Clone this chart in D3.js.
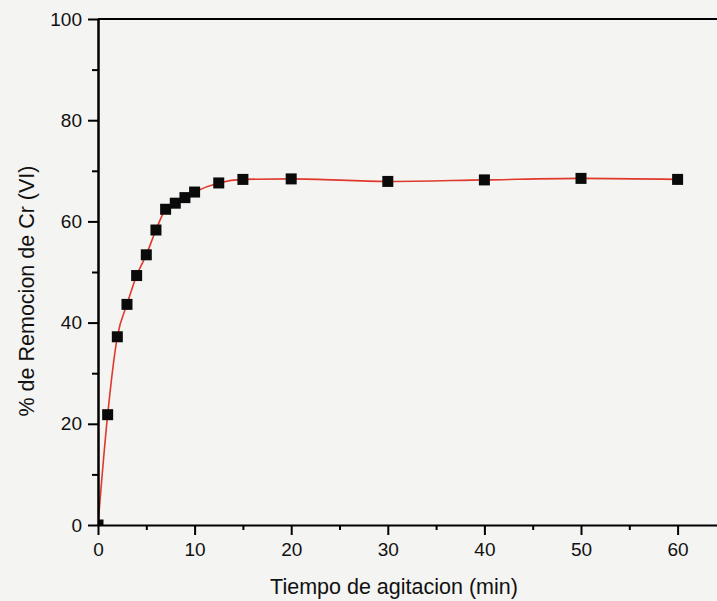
<!DOCTYPE html>
<html lang="en">
<head>
<meta charset="utf-8">
<title>Remocion de Cr (VI)</title>
<script src="https://cdnjs.cloudflare.com/ajax/libs/d3/7.8.5/d3.min.js"></script>
<style>
  body { margin: 0; background: #f4f4f2; }
  svg { display: block; }
  .axis path, .axis line { stroke: #000; }
  .axis text { font-family: "Liberation Sans", Arial, sans-serif; font-size: 19px; fill: #111; }
  .title { font-family: "Liberation Sans", Arial, sans-serif; font-size: 21.5px; fill: #111; }
</style>
</head>
<body>
<script>
// data
var tiempo   = [0, 1, 2, 3, 4, 5, 6, 7, 8, 9, 10, 12.5, 15, 20, 30, 40, 50, 60];
var remocion = [0, 21.8, 37.2, 43.6, 49.3, 53.4, 58.3, 62.4, 63.6, 64.7, 65.8, 67.6, 68.3, 68.4, 67.9, 68.2, 68.5, 68.3];
var xTicks = [0, 10, 20, 30, 40, 50, 60];
var yTicks = [0, 20, 40, 60, 80, 100];

var W = 717, H = 601;
var margin = {top: 19, left: 98, bottom: 76};
var plotH = H - margin.top - margin.bottom;

var svg = d3.select("body").append("svg")
    .attr("width", W)
    .attr("height", H);

svg.append("rect").attr("width", W).attr("height", H).attr("fill", "#f4f4f2");

// x axis runs a little past 60, picture is cut at the right edge
var x = d3.scaleLinear().domain([0, 65]).range([margin.left, margin.left + 65 * 9.66]);
var y = d3.scaleLinear().domain([0, 100]).range([margin.top + plotH, margin.top]);

svg.append("clipPath").attr("id", "plotclip")
  .append("rect")
    .attr("x", x(0)).attr("y", y(100))
    .attr("width", x(65) - x(0)).attr("height", y(0) - y(100));

var data = tiempo.map(function(t, i) { return {t: t, r: remocion[i]}; });

var plot = svg.append("g").attr("clip-path", "url(#plotclip)");

// fitted line
var line = d3.line()
    .x(function(d) { return x(d.t); })
    .y(function(d) { return y(d.r); })
    .curve(d3.curveMonotoneX);

plot.append("path")
    .datum(data)
    .attr("fill", "none")
    .attr("stroke", "#e0392c")
    .attr("stroke-width", 1.6)
    .attr("d", line);

// markers
plot.selectAll(".pt")
    .data(data)
  .enter().append("rect")
    .attr("class", "pt")
    .attr("x", function(d) { return x(d.t) - 5.5; })
    .attr("y", function(d) { return y(d.r) - 5.5; })
    .attr("width", 11)
    .attr("height", 11)
    .attr("fill", "#0a0a0a");

// top frame line
svg.append("line")
    .attr("x1", x(0)).attr("x2", x(65))
    .attr("y1", y(100)).attr("y2", y(100))
    .attr("stroke", "#000").attr("stroke-width", 2);

// minor ticks
svg.append("g")
    .attr("class", "axis")
    .attr("transform", "translate(0," + y(0) + ")")
    .call(d3.axisBottom(x).tickValues(d3.range(5, 65, 10)).tickSize(5).tickFormat(""))
    .call(function(g) { g.select(".domain").remove(); g.selectAll("line").attr("stroke-width", 2); });

svg.append("g")
    .attr("class", "axis")
    .attr("transform", "translate(" + x(0) + ",0)")
    .call(d3.axisLeft(y).tickValues(d3.range(10, 100, 20)).tickSize(6).tickFormat(""))
    .call(function(g) { g.select(".domain").remove(); g.selectAll("line").attr("stroke-width", 2); });

// major axes
svg.append("g")
    .attr("class", "axis")
    .attr("transform", "translate(0," + y(0) + ")")
    .call(d3.axisBottom(x).tickValues(xTicks).tickSize(10).tickSizeOuter(0).tickPadding(8))
    .call(function(g) {
      g.select(".domain").attr("stroke-width", 2);
      g.selectAll("line").attr("stroke-width", 2);
    });

svg.append("g")
    .attr("class", "axis")
    .attr("transform", "translate(" + x(0) + ",0)")
    .call(d3.axisLeft(y).tickValues(yTicks).tickSize(10).tickSizeOuter(0).tickPadding(6))
    .call(function(g) {
      g.select(".domain").attr("stroke-width", 2.5);
      g.selectAll("line").attr("stroke-width", 2);
    });

// axis titles
svg.append("text")
    .attr("class", "title")
    .attr("x", 394)
    .attr("y", 594)
    .attr("text-anchor", "middle")
    .text("Tiempo de agitacion (min)");

svg.append("text")
    .attr("class", "title")
    .attr("transform", "translate(34,291) rotate(-90)")
    .attr("text-anchor", "middle")
    .text("% de Remocion de Cr (VI)");
</script>
</body>
</html>
